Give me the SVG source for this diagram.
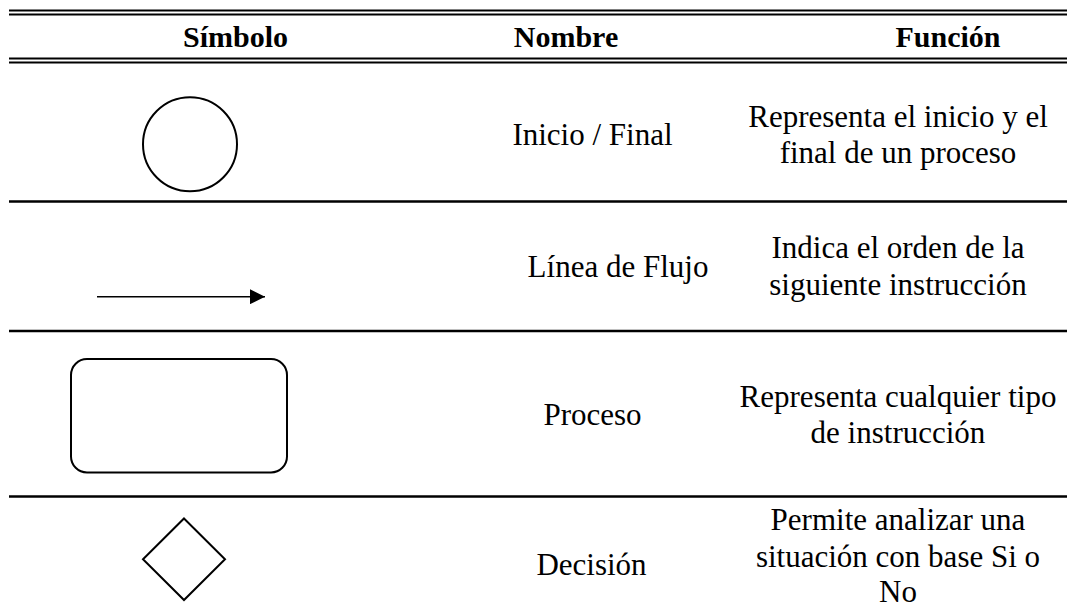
<svg xmlns="http://www.w3.org/2000/svg" width="1067" height="614" viewBox="0 0 1067 614">
  <style>
    .rule { stroke: #000; stroke-width: 2.5; fill: none; }
    .rule2 { stroke: #000; stroke-width: 1.8; fill: none; }
    .shape { stroke: #000; stroke-width: 2; fill: #fff; }
    .head { font-family: "Liberation Serif", "Times New Roman", serif; font-size: 30px; font-weight: bold; fill: #000; text-anchor: middle; }
    .body { font-family: "Liberation Serif", "Times New Roman", serif; font-size: 31px; fill: #000; text-anchor: middle; }
  </style>
  <defs>
    <marker id="arrowhead" markerWidth="15" markerHeight="15" refX="15" refY="7.5" orient="auto" markerUnits="userSpaceOnUse">
      <path d="M0,0 L15,7.5 L0,15 Z" fill="#000"/>
    </marker>
  </defs>
  <rect width="1067" height="614" fill="#fff"/>

  <!-- table rules -->
  <g id="rules">
    <line class="rule2" x1="9" y1="10.5" x2="1067" y2="10.5"/>
    <line class="rule2" x1="9" y1="14.5" x2="1067" y2="14.5"/>
    <line class="rule2" x1="9" y1="58.5" x2="1067" y2="58.5"/>
    <line class="rule2" x1="9" y1="62.5" x2="1067" y2="62.5"/>
    <line class="rule" x1="9" y1="201.5" x2="1067" y2="201.5"/>
    <line class="rule" x1="9" y1="331" x2="1067" y2="331"/>
    <line class="rule" x1="9" y1="496.5" x2="1067" y2="496.5"/>
  </g>

  <!-- column headings -->
  <g id="header">
    <text class="head" x="235.5" y="47">Símbolo</text>
    <text class="head" x="566" y="47">Nombre</text>
    <text class="head" x="948" y="47">Función</text>
  </g>

  <!-- row 1: start / end -->
  <g id="row-inicio">
    <circle class="shape" cx="190" cy="144.3" r="47"/>
    <text class="body" x="592.5" y="145">Inicio / Final</text>
    <text class="body" x="898" y="126.5">Representa el inicio y el</text>
    <text class="body" x="898" y="163">final de un proceso</text>
  </g>

  <!-- row 2: flow line -->
  <g id="row-flujo">
    <text class="body" x="618" y="276.7">Línea de Flujo</text>
    <text class="body" x="898" y="258.3">Indica el orden de la</text>
    <text class="body" x="898" y="295">siguiente instrucción</text>
  </g>

  <!-- row 3: process -->
  <g id="row-proceso">
    <rect class="shape" x="71" y="359" width="216" height="113.5" rx="16" ry="16"/>
    <text class="body" x="592.5" y="425">Proceso</text>
    <text class="body" x="898" y="406.7">Representa cualquier tipo</text>
    <text class="body" x="898" y="443.3">de instrucción</text>
  </g>

  <!-- row 4: decision -->
  <g id="row-decision">
    <polygon class="shape" points="184,518.5 225,559.3 184,600 143,559.3"/>
    <text class="body" x="591.5" y="575">Decisión</text>
    <text class="body" x="898" y="529.5">Permite analizar una</text>
    <text class="body" x="898" y="566.5">situación con base Si o</text>
    <text class="body" x="898" y="602">No</text>
  </g>

  <!-- flow-line symbol -->
  <g id="connectors">
    <line x1="97" y1="296.7" x2="265" y2="296.7" stroke="#000" stroke-width="1.4" marker-end="url(#arrowhead)"/>
  </g>
</svg>
